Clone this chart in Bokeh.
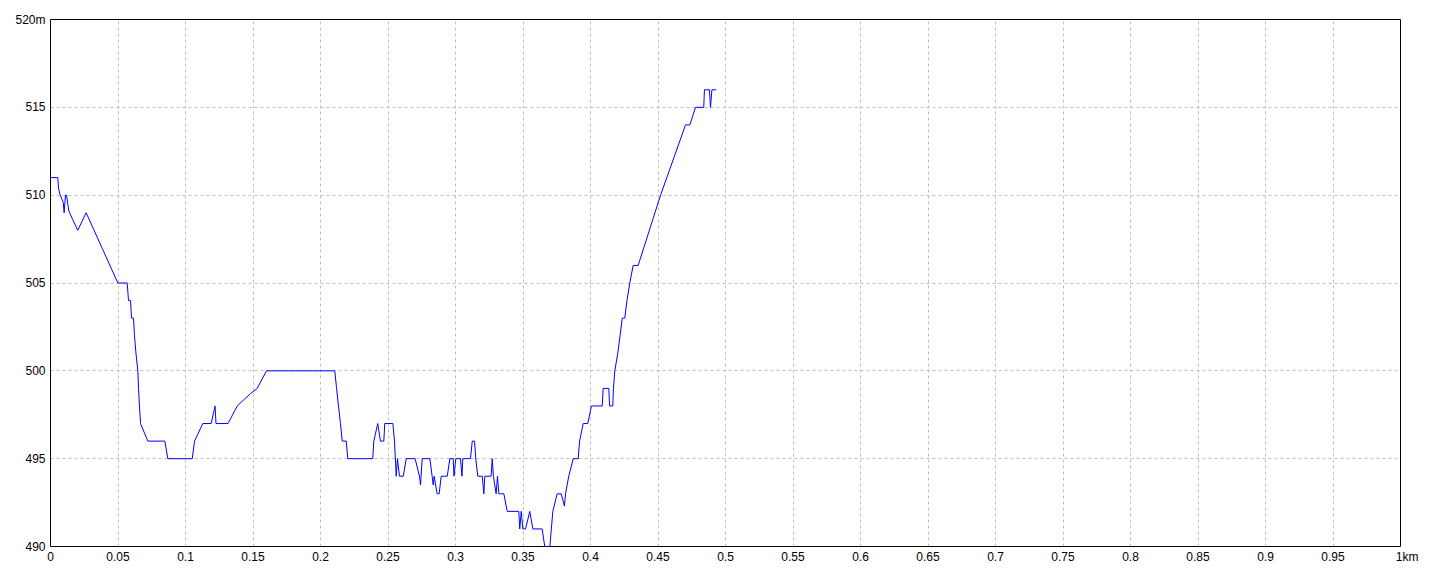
from bokeh.plotting import figure
from bokeh.models import FixedTicker
from bokeh.embed import file_html
from bokeh.resources import INLINE

# distance along the route (km) and elevation (m)
dist_km = [0, 0.0054, 0.0059, 0.0072, 0.0094, 0.0101, 0.0111, 0.0119, 0.0128, 0.0136,
           0.0165, 0.0202, 0.0264, 0.0499, 0.0568, 0.0578, 0.0593, 0.0600, 0.0615, 0.0622,
           0.0633, 0.0647, 0.0652, 0.0659, 0.0667, 0.0721, 0.0847, 0.0869, 0.1050, 0.1067,
           0.1128, 0.1190, 0.1219, 0.1226, 0.1315, 0.1383, 0.1481, 0.1531, 0.1600, 0.2106,
           0.2119, 0.2133, 0.2148, 0.2161, 0.2191, 0.2202, 0.2387, 0.2395, 0.2424, 0.2444,
           0.2469, 0.2476, 0.2536, 0.2548, 0.2561, 0.2570, 0.2585, 0.2613, 0.2635, 0.2701,
           0.2733, 0.2741, 0.2753, 0.2810, 0.2827, 0.2835, 0.2842, 0.2864, 0.2879, 0.2894,
           0.2939, 0.2958, 0.2983, 0.2989, 0.3002, 0.3037, 0.3048, 0.3054, 0.3111, 0.3124,
           0.3141, 0.3150, 0.3165, 0.3198, 0.3210, 0.3217, 0.3264, 0.3272, 0.3281, 0.3301,
           0.3311, 0.3321, 0.3333, 0.3358, 0.3383, 0.3469, 0.3476, 0.3487, 0.3499, 0.3519,
           0.3550, 0.3573, 0.3642, 0.3661, 0.3699, 0.3721, 0.3753, 0.3783, 0.3807, 0.3815,
           0.3839, 0.3872, 0.3909, 0.3919, 0.3946, 0.3980, 0.4007, 0.4087, 0.4094, 0.4136,
           0.4141, 0.4165, 0.4170, 0.4180, 0.4202, 0.4219, 0.4235, 0.4254, 0.4270, 0.4291,
           0.4316, 0.4353, 0.4519, 0.4704, 0.4736, 0.4778, 0.4839, 0.4844, 0.4881, 0.4889,
           0.4899, 0.4931]
elev_m = [511, 511, 510.4, 510, 509.6, 509, 510, 510, 509.5, 509.1,
          508.6, 508, 509, 505, 505, 504, 504, 503, 503, 502,
          501, 500, 499, 498, 497, 496, 496, 495, 495, 496,
          497, 497, 498, 497, 497, 498, 498.7, 499, 500, 500,
          499, 498, 497, 496, 496, 495, 495, 496, 497, 496,
          496, 497, 497, 496, 494, 495, 494, 494, 495, 495,
          494, 493.5, 495, 495, 494, 493.5, 494, 493, 493, 494,
          494, 495, 495, 494, 495, 495, 494, 495, 495, 496,
          496, 495, 494, 494, 493, 494, 494, 495, 494, 493,
          494, 493, 493, 493, 492, 492, 491, 492, 491, 491,
          492, 491, 491, 490, 490, 492, 493, 493, 492.3, 493,
          494, 495, 495, 496, 497, 497, 498, 498, 499, 499,
          498, 498, 499, 500, 501, 502, 503, 503, 504, 505,
          506, 506, 510, 514, 514, 515, 515, 516, 516, 515,
          516, 516]

x_ticks = [0, 0.05, 0.1, 0.15, 0.2, 0.25, 0.3, 0.35, 0.4, 0.45,
           0.5, 0.55, 0.6, 0.65, 0.7, 0.75, 0.8, 0.85, 0.9, 0.95, 1]
x_labels = ["0", "0.05", "0.1", "0.15", "0.2", "0.25", "0.3", "0.35", "0.4", "0.45",
            "0.5", "0.55", "0.6", "0.65", "0.7", "0.75", "0.8", "0.85", "0.9", "0.95",
            "\u2007\u20071km"]
y_ticks = [490, 495, 500, 505, 510, 515, 520]
y_labels = ["490", "495", "500", "505", "510", "515", "520m"]

p = figure(width=1432, height=568, x_range=(0, 1), y_range=(490, 520),
           output_backend="svg", toolbar_location=None,
           min_border_left=50, min_border_right=32, min_border_top=19, min_border_bottom=22)

p.line(dist_km, elev_m, line_color="#0000ff", line_width=1)

p.xaxis.ticker = FixedTicker(ticks=x_ticks)
p.yaxis.ticker = FixedTicker(ticks=y_ticks)
p.xaxis.major_label_overrides = {t: l for t, l in zip(x_ticks, x_labels)}
p.yaxis.major_label_overrides = {t: l for t, l in zip(y_ticks, y_labels)}

for ax in (p.xaxis, p.yaxis):
    ax.axis_line_color = None
    ax.major_tick_line_color = None
    ax.minor_tick_line_color = None
    ax.major_tick_in = 0
    ax.major_tick_out = 0
    ax.major_label_text_font = "Liberation Sans"
    ax.major_label_text_font_size = "12px"
    ax.major_label_text_color = "black"
p.xaxis.major_label_standoff = 3
p.yaxis.major_label_standoff = 5

p.grid.grid_line_color = "#c0c0c0"
p.grid.grid_line_dash = "3 3"
p.grid.grid_line_width = 1

p.outline_line_color = "black"
p.outline_line_width = 1
p.outline_line_alpha = 1
p.background_fill_color = "white"
p.border_fill_color = "white"

open("out.html", "w").write(file_html(p, INLINE))
